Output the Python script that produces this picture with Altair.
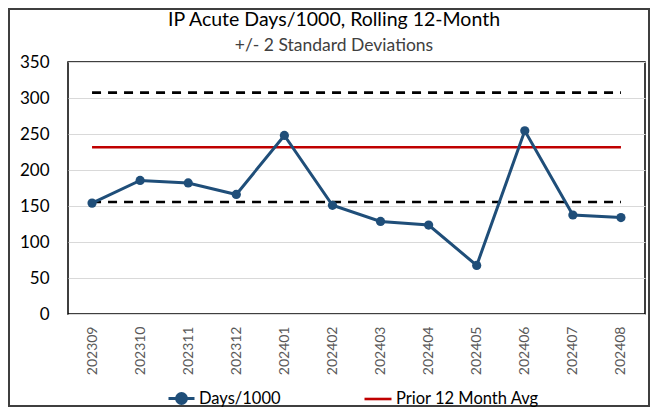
import altair as alt
import pandas as pd

months = ["202309", "202310", "202311", "202312", "202401", "202402",
          "202403", "202404", "202405", "202406", "202407", "202408"]
days_per_1000 = [154, 185.5, 182, 166, 248, 151, 128.5, 123.5, 67.5, 254.5, 137.5, 134]
prior_avg = 231.5
upper_limit = 307.5
lower_limit = 155.5
title_text = "IP Acute Days/1000, Rolling 12-Month"
subtitle_text = "+/- 2 Standard Deviations"

FONT = "Lato"
BLUE = "#1F4E79"
RED = "#C00000"

df = pd.DataFrame({"month": months, "value": days_per_1000, "series": "Days/1000"})
avg_df = pd.DataFrame({"month": months, "value": [prior_avg] * len(months),
                       "series": "Prior 12 Month Avg"})
lim_df = pd.DataFrame({
    "month": months * 2,
    "value": [upper_limit] * len(months) + [lower_limit] * len(months),
    "limit": ["upper"] * len(months) + ["lower"] * len(months),
})

x_enc = alt.X("month:N", sort=months,
              scale=alt.Scale(type="point", padding=0.5),
              axis=alt.Axis(title=None, labelAngle=-90, labelFont=FONT, labelFontSize=14,
                            labelColor="#595959", tickSize=0, ticks=False, domain=False,
                            grid=False, labelPadding=12))
y_enc = alt.Y("value:Q", scale=alt.Scale(domain=[0, 350], nice=False),
              axis=alt.Axis(title=None, values=[0, 50, 100, 150, 200, 250, 300, 350],
                            labelFont=FONT, labelFontSize=17, labelColor="#000000",
                            tickSize=0, ticks=False, domain=False, labelPadding=19,
                            grid=True, gridColor="#D9D9D9", gridWidth=1))

limits = alt.Chart(lim_df).mark_line(color="black", strokeWidth=2.6, strokeDash=[9, 7]).encode(
    x=x_enc, y=y_enc, detail="limit:N")

avg = alt.Chart(avg_df).mark_line(strokeWidth=2.6).encode(
    x=x_enc, y=y_enc,
    color=alt.Color("series:N",
                    scale=alt.Scale(domain=["Prior 12 Month Avg"], range=[RED]),
                    legend=alt.Legend(title=None, orient="none", legendX=295, legendY=322,
                                      symbolType="stroke", symbolSize=729, symbolStrokeWidth=2.6,
                                      labelFont=FONT, labelFontSize=16.5, labelColor="#000000",
                                      labelOffset=3, padding=0)))

days_line = alt.Chart(df).mark_line(strokeWidth=3).encode(
    x=x_enc, y=y_enc,
    color=alt.Color("series:N",
                    scale=alt.Scale(domain=["Days/1000"], range=[BLUE]),
                    legend=alt.Legend(title=None, orient="none", legendX=99, legendY=322,
                                      symbolType="M-1,0L1,0M-0.38,0A0.38,0.38 0 1,0 0.38,0A0.38,0.38 0 1,0 -0.38,0Z",
                                      symbolSize=676, symbolStrokeWidth=3,
                                      symbolFillColor=BLUE,
                                      labelFont=FONT, labelFontSize=16.5, labelColor="#000000",
                                      labelOffset=3, padding=0)))

days_pts = alt.Chart(df).mark_point(filled=True, size=85, opacity=1, color=BLUE).encode(
    x=x_enc, y=y_enc)

frame = alt.Chart(pd.DataFrame({"a": [0]})).mark_rect(
    fill=None, stroke="#3F3F3F", strokeWidth=2).encode(
    x=alt.value(-59), x2=alt.value(581), y=alt.value(-53), y2=alt.value(344))

title = alt.Chart(pd.DataFrame({"t": [title_text]})).mark_text(
    font=FONT, fontSize=19.5, color="#000000", align="center", baseline="middle").encode(
    text="t:N", x=alt.value(266), y=alt.value(-42))

subtitle = alt.Chart(pd.DataFrame({"t": [subtitle_text]})).mark_text(
    font=FONT, fontSize=17.5, color="#404040", align="center", baseline="middle").encode(
    text="t:N", x=alt.value(266), y=alt.value(-16))

chart = alt.layer(frame, title, subtitle, limits, avg, days_line, days_pts).resolve_scale(
    color="independent"
).properties(
    width=577, height=252,
    autosize=alt.AutoSizeParams(type="none"),
    padding={"left": 60, "top": 54, "right": 5, "bottom": 93},
).configure_view(stroke="#000000", strokeWidth=1.5)

chart.save("out.html", embed_options={"renderer": "svg", "actions": False})
